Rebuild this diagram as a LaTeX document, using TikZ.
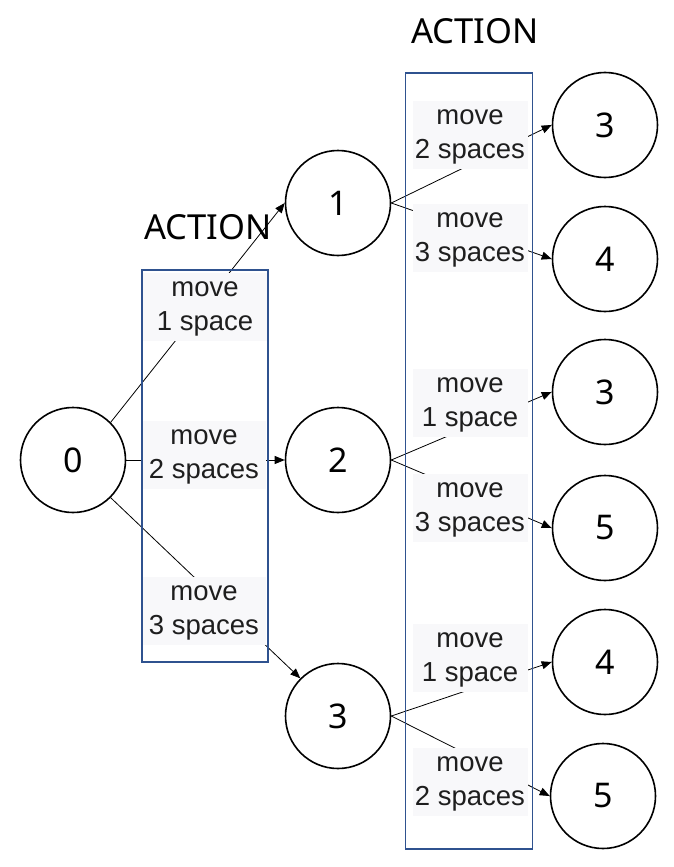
\documentclass[tikz,border=0pt]{standalone}
\usepackage{fontspec}
\setmainfont{Liberation Sans}
\newfontfamily\numfont{Noto Sans}
\usetikzlibrary{arrows.meta}
\definecolor{boxblue}{RGB}{47,82,143}
\definecolor{lblfill}{RGB}{248,248,250}
\definecolor{lbltext}{RGB}{30,30,30}
\begin{document}
\begin{tikzpicture}[x=1pt,y=-1pt,
  state/.style={circle,draw=black,line width=1.6pt,minimum size=105pt,inner sep=0pt,font=\numfont\fontsize{34}{40}\selectfont},
  actbox/.style={draw=boxblue,line width=1.3pt,inner sep=0pt},
  acttitle/.style={font=\numfont\fontsize{34.5}{40}\selectfont,inner sep=0pt},
  lbl/.style={fill=lblfill,text=lbltext,align=center,inner xsep=2pt,inner ysep=0pt,font=\fontsize{27.5}{34}\selectfont},
  lblL/.style={lbl,minimum width=124pt},
  lblR/.style={lbl,minimum width=115pt},
  edge/.style={line width=0.8pt,-{Triangle[length=10pt,width=8pt]}}
]
\useasboundingbox (0,0) rectangle (674,867);

% titles
\node[acttitle] (tL) at (208,227.5) {ACTION};
\node[acttitle] (tR) at (475,31.5) {ACTION};

% states
\node[state] (c0) at (73,460) {0};
\node[state] (c1) at (338,203) {1};
\node[state] (c2) at (338,460) {2};
\node[state] (c3) at (338,716) {3};
\node[state] (r1) at (605,125) {3};
\node[state] (r2) at (605,259) {4};
\node[state] (r3) at (605,392) {3};
\node[state] (r4) at (605,528) {5};
\node[state] (r5) at (605,662) {4};
\node[state] (r6) at (603,796) {5};

% edges
\draw[edge] (c0.north east) -- (c1.west);
\draw[edge] (c0.east) -- (c2.west);
\draw[edge] (c0.south east) -- (c3.north west);
\draw[edge] (c1.east) -- (r1.west);
\draw[edge] (c1.east) -- (r2.west);
\draw[edge] (c2.east) -- (r3.west);
\draw[edge] (c2.east) -- (r4.west);
\draw[edge] (c3.east) -- (r5.west);
\draw[edge] (c3.east) -- (r6.west);

% labels
\node[lblL] (l01) at (205,307) {\strut move\\1 space\strut};
\node[lblL] (l02) at (204,455) {\strut move\\2 spaces\strut};
\node[lblL] (l03) at (204,611) {\strut move\\3 spaces\strut};
\node[lblR] (l11) at (470,135) {\strut move\\2 spaces\strut};
\node[lblR] (l12) at (470,238) {\strut move\\3 spaces\strut};
\node[lblR] (l21) at (470,403) {\strut move\\1 space\strut};
\node[lblR] (l22) at (470,508) {\strut move\\3 spaces\strut};
\node[lblR] (l31) at (470,658) {\strut move\\1 space\strut};
\node[lblR] (l32) at (470,782) {\strut move\\2 spaces\strut};

% action boxes (outlines on top)
\node[actbox,minimum width=126pt,minimum height=392pt] (boxL) at (205,466) {};
\node[actbox,minimum width=127pt,minimum height=776pt] (boxR) at (469,461) {};
\end{tikzpicture}
\end{document}
